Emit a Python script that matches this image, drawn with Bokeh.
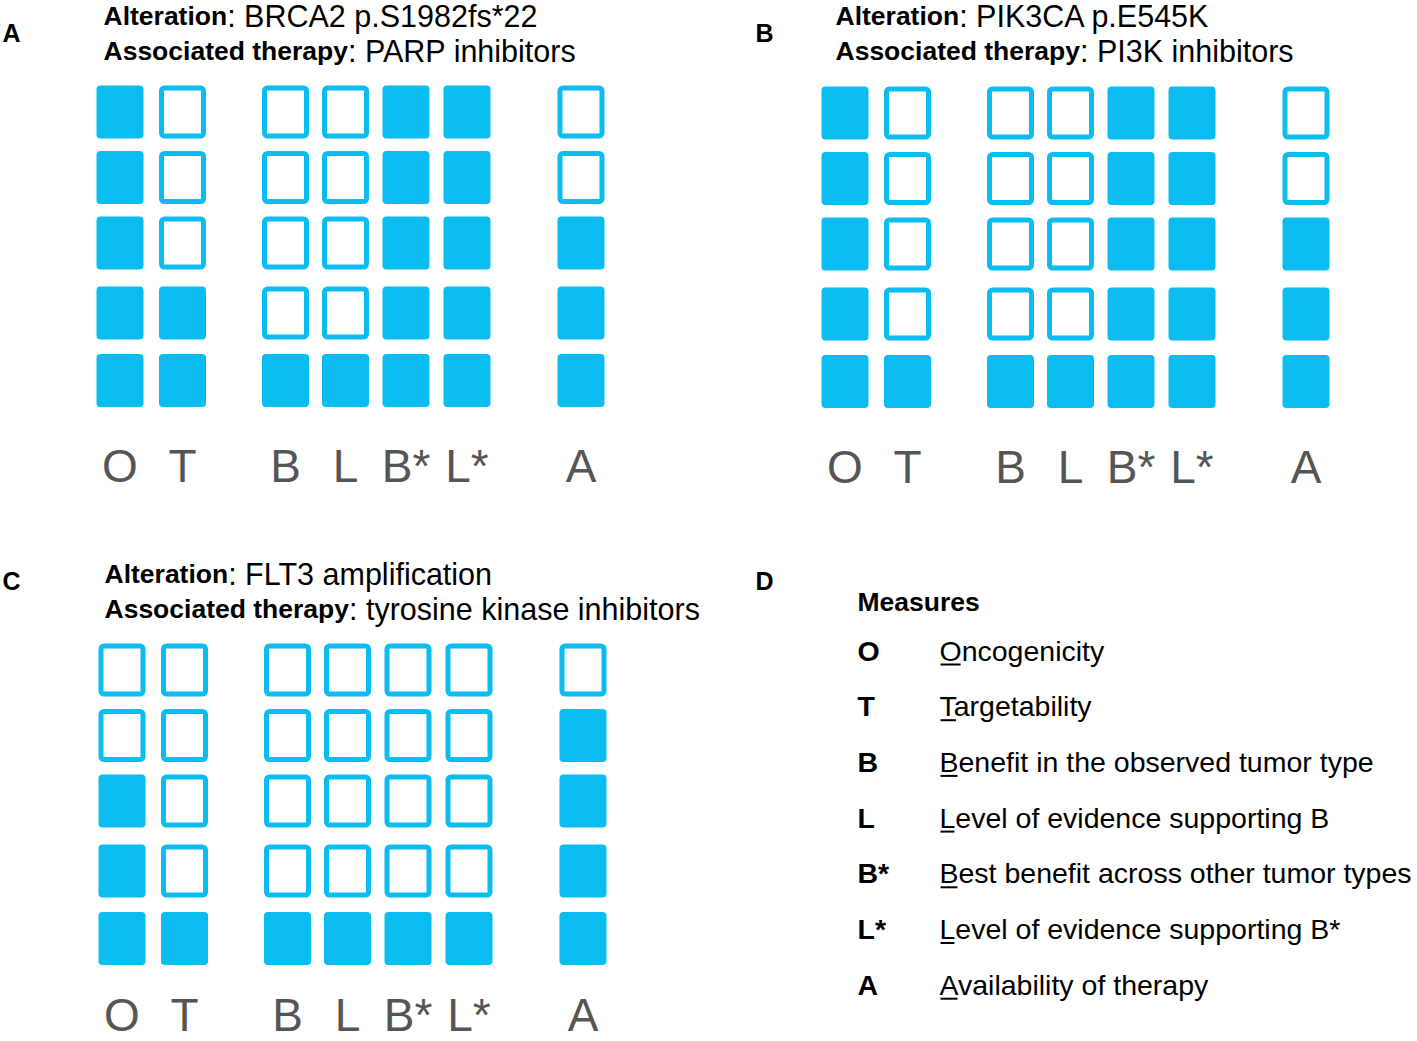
from bokeh.plotting import figure
from bokeh.models import Range1d, ColumnDataSource
from bokeh.embed import file_html
from bokeh.resources import INLINE
from bokeh.core.properties import value

# ---------------- data ----------------
measures = ["O", "T", "B", "L", "B*", "L*", "A"]
n_levels = 5
# number of filled squares (counted from the bottom) per measure
scores_A = [5, 2, 1, 1, 5, 5, 3]
scores_B = [5, 1, 1, 1, 5, 5, 3]
scores_C = [3, 1, 1, 1, 1, 1, 4]
alterations = ["BRCA2 p.S1982fs*22", "PIK3CA p.E545K", "FLT3 amplification"]
therapies = ["PARP inhibitors", "PI3K inhibitors", "tyrosine kinase inhibitors"]
panel_letters = ["A", "B", "C", "D"]
legend_title = "Measures"
legend_keys = ["O", "T", "B", "L", "B*", "L*", "A"]
legend_desc = ["Oncogenicity", "Targetability", "Benefit in the observed tumor type",
               "Level of evidence supporting B", "Best benefit across other tumor types",
               "Level of evidence supporting B*", "Availability of therapy"]

# ---------------- layout / style ----------------
BLUE = "#0BBCF0"
GRAY = "#555555"
FONT = "Liberation Sans"
W, H = 1417, 1041
col_off = [0, 62.5, 165.5, 225.5, 286, 347, 461]
row_off = [0, 65.5, 131, 201, 268.5]
origins = [(119.5, 111.5), (844.5, 112.5), (121.5, 669.5)]
title_pos = [(103, 15), (835, 15), (104, 573)]   # middle of first title line
TITLE_GAP = 35
letter_pos = [(2, 32), (755, 32), (2, 580), (755, 580)]
SQ_W, SQ_H, LW = 47, 53, 5
LABEL_DY = 353.5
LABEL_FS = 46
TITLE_BOLD_FS = 26.5
TITLE_FS = 30.5
LEG_FS = 28.5

BOLD_W = {"A": 722, "l": 278, "t": 333, "e": 556, "r": 389, "a": 556, "i": 278,
          "o": 611, "n": 611, "s": 556, "c": 556, "d": 611, " ": 278, "h": 611,
          "p": 611, "y": 556}
REG_W = {"O": 778, "T": 611, "B": 667, "L": 556, "A": 667}


def bold_width(s, fs):
    return sum(BOLD_W.get(ch, 600) for ch in s) / 1000.0 * fs


p = figure(width=W, height=H, output_backend="svg", toolbar_location=None,
           x_range=Range1d(0, W), y_range=Range1d(H, 0),
           min_border=0, min_border_left=0, min_border_right=0,
           min_border_top=0, min_border_bottom=0)
p.axis.visible = False
p.grid.visible = False
p.outline_line_color = None
p.background_fill_color = "white"
p.border_fill_color = "white"

fill = dict(l=[], r=[], t=[], b=[])
outl = dict(l=[], r=[], t=[], b=[])
lab = dict(x=[], y=[], text=[])
max_mid = H - 0.58 * LABEL_FS
for (ox, oy), scores in zip(origins, [scores_A, scores_B, scores_C]):
    for j, (m, sc) in enumerate(zip(measures, scores)):
        cx = ox + col_off[j]
        for i in range(n_levels):
            level = n_levels - i
            cy = oy + row_off[i]
            if level <= sc:
                fill["l"].append(cx - SQ_W / 2); fill["r"].append(cx + SQ_W / 2)
                fill["t"].append(cy - SQ_H / 2); fill["b"].append(cy + SQ_H / 2)
            else:
                outl["l"].append(cx - SQ_W / 2 + LW / 2); outl["r"].append(cx + SQ_W / 2 - LW / 2)
                outl["t"].append(cy - SQ_H / 2 + LW / 2); outl["b"].append(cy + SQ_H / 2 - LW / 2)
        lab["x"].append(cx); lab["y"].append(min(oy + LABEL_DY, max_mid)); lab["text"].append(m)

p.quad(left="l", right="r", top="t", bottom="b", source=ColumnDataSource(fill),
       fill_color=BLUE, line_color=None, border_radius=4)
p.quad(left="l", right="r", top="t", bottom="b", source=ColumnDataSource(outl),
       fill_color="white", line_color=BLUE, line_width=LW, border_radius=3)

p.text(x="x", y="y", text="text", source=ColumnDataSource(lab), text_font=value(FONT),
       text_font_size=f"{LABEL_FS}px", text_color=GRAY, text_align="center",
       text_baseline="middle")

# titles
tb = dict(x=[], y=[], text=[])
tn = dict(x=[], y=[], text=[])
for (tx, ty), alt, ther in zip(title_pos, alterations, therapies):
    for k, (bold, rest) in enumerate([("Alteration", ": " + alt), ("Associated therapy", ": " + ther)]):
        yy = ty + k * TITLE_GAP
        tb["x"].append(tx); tb["y"].append(yy); tb["text"].append(bold)
        tn["x"].append(tx + bold_width(bold, TITLE_BOLD_FS)); tn["y"].append(yy); tn["text"].append(rest)
p.text(x="x", y="y", text="text", source=ColumnDataSource(tb), text_font=value(FONT),
       text_font_style="bold", text_font_size=f"{TITLE_BOLD_FS}px", text_color="black",
       text_align="left", text_baseline="middle")
p.text(x="x", y="y", text="text", source=ColumnDataSource(tn), text_font=value(FONT),
       text_font_size=f"{TITLE_FS}px", text_color="black",
       text_align="left", text_baseline="middle")

# panel letters
p.text(x=[q[0] for q in letter_pos], y=[q[1] for q in letter_pos], text=panel_letters,
       text_font=value(FONT), text_font_style="bold", text_font_size="25px",
       text_color="black", text_align="left", text_baseline="middle")

# legend panel D
KEY_X, DESC_X, LEG_Y0, LEG_DY, LEG_TITLE_Y = 857, 939, 650, 55.7, 601
p.text(x=[KEY_X], y=[LEG_TITLE_Y], text=[legend_title], text_font=value(FONT),
       text_font_style="bold", text_font_size="26.5px", text_color="black",
       text_align="left", text_baseline="middle")
ys = [LEG_Y0 + i * LEG_DY for i in range(len(legend_keys))]
p.text(x=[KEY_X] * len(legend_keys), y=ys, text=legend_keys, text_font=value(FONT),
       text_font_style="bold", text_font_size=f"{LEG_FS}px", text_color="black",
       text_align="left", text_baseline="middle")
p.text(x=[DESC_X] * len(legend_desc), y=ys, text=legend_desc, text_font=value(FONT),
       text_font_size=f"{LEG_FS}px", text_color="black",
       text_align="left", text_baseline="middle")
# underline the first letter of each description
ux0 = [DESC_X + 1 for _ in legend_desc]
ux1 = [DESC_X + REG_W[d[0]] / 1000.0 * LEG_FS - 1 for d in legend_desc]
uy = [y + 14 for y in ys]
p.segment(x0=ux0, y0=uy, x1=ux1, y1=uy, line_color="black", line_width=2)

open("out.html", "w").write(file_html(p, INLINE))
